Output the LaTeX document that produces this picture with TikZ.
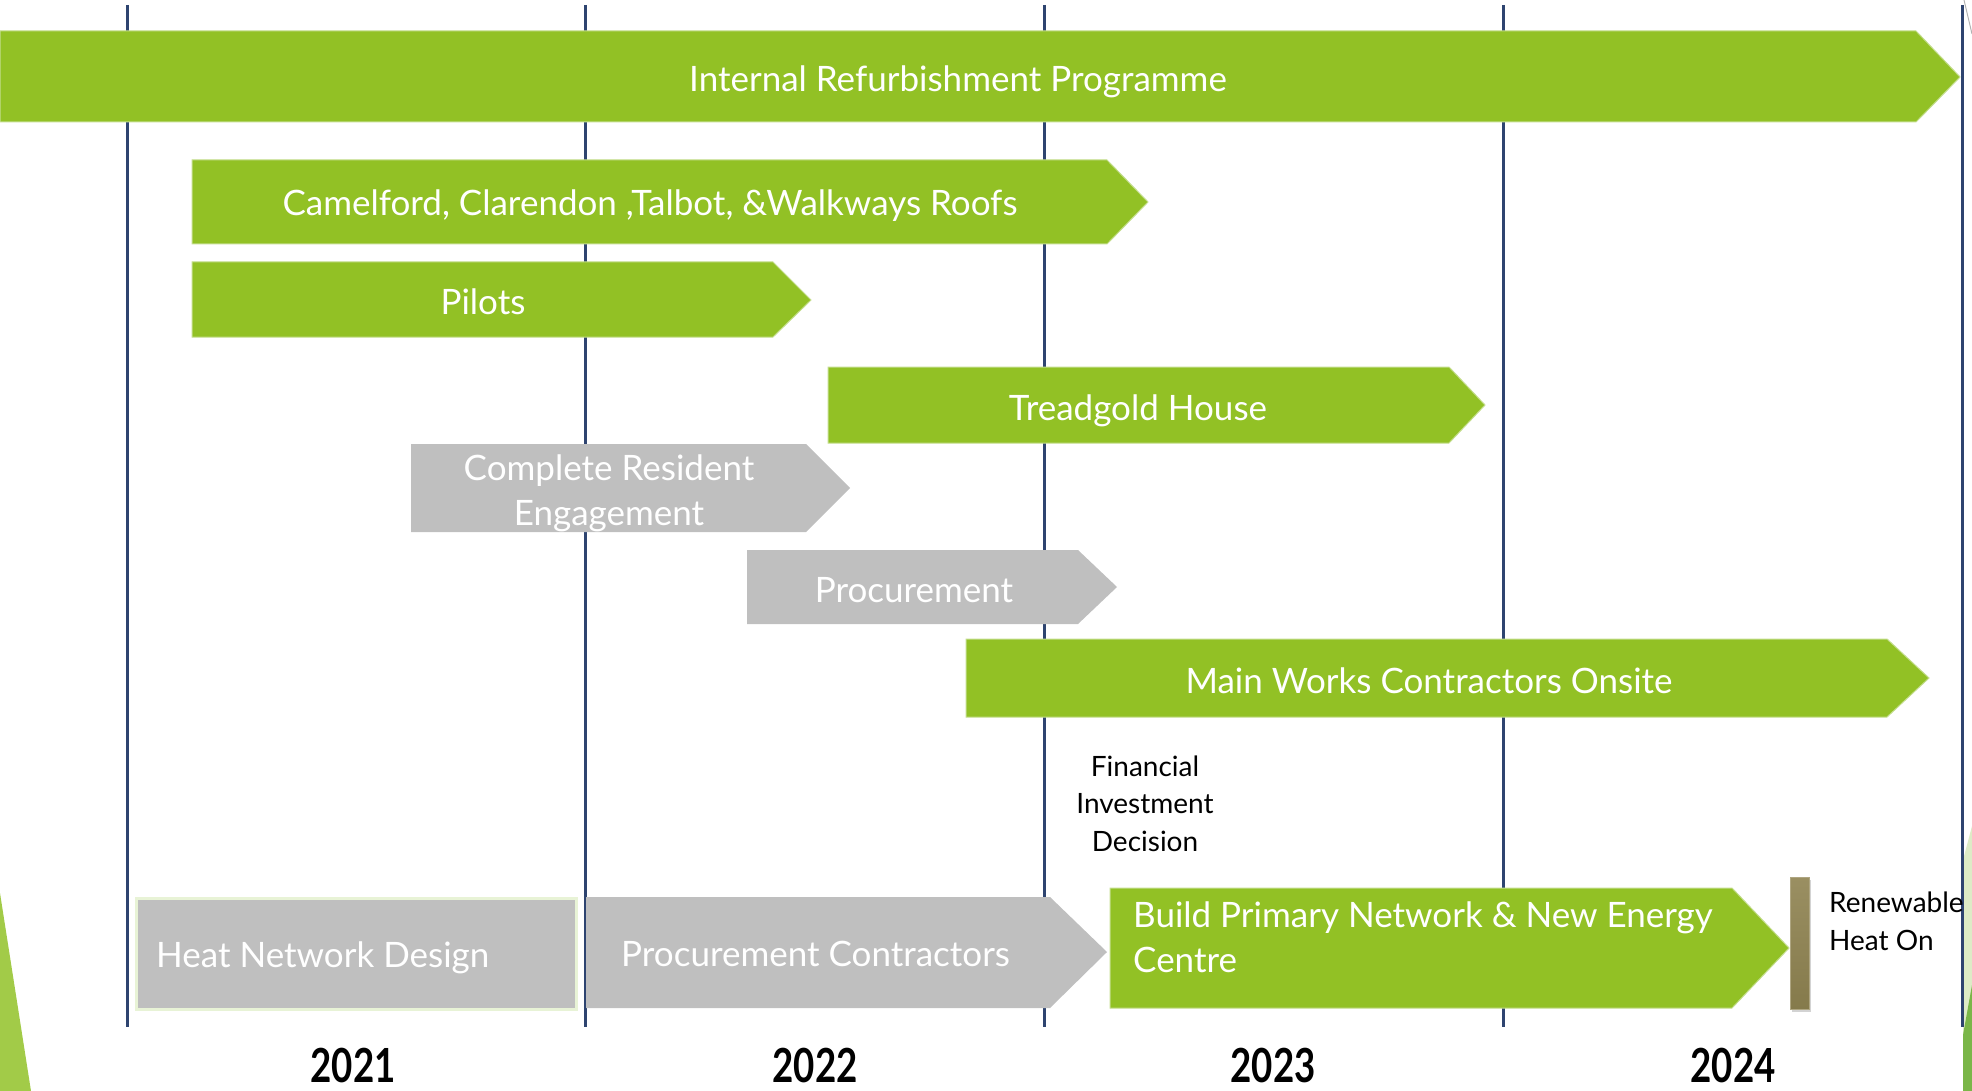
\documentclass[tikz,border=0pt]{standalone}
\usepackage{fontspec}
\setmainfont{Lato}
\usepackage{graphicx}
\usetikzlibrary{shadows}
\definecolor{bargreen}{HTML}{92C125}
\definecolor{baredge}{HTML}{C3DD8C}
\definecolor{boxgrey}{HTML}{BFBFBF}
\definecolor{linenavy}{HTML}{2E4470}
\definecolor{hndedge}{HTML}{E8F3D6}
\definecolor{leftgreen}{HTML}{A2CB48}
\definecolor{palegreen}{HTML}{DDEBC6}
\definecolor{darkgreen}{HTML}{7AB648}
\definecolor{bartop}{HTML}{9A8F62}
\definecolor{barbot}{HTML}{857A4B}
\begin{document}
\begin{tikzpicture}[x=1pt,y=-1pt,
  greenarrow/.style={fill=bargreen, draw=baredge, line width=1pt},
  greyarrow/.style={fill=boxgrey},
  lbl/.style={text=white, font=\fontsize{35}{45}\selectfont, inner sep=0pt, align=center},
  lbll/.style={text=white, font=\fontsize{35}{45}\selectfont, inner sep=0pt, align=left},
  note/.style={text=black, font=\fontsize{28}{37.5}\selectfont, inner sep=0pt},
  yearlbl/.style={text=black, font=\fontsize{47}{50}\selectfont\bfseries, inner sep=0pt},
  gridline/.style={draw=linenavy, line width=3pt}]
\useasboundingbox (0,0) rectangle (1972,1091);
% decorations at the edges
\fill[leftgreen] (0,893) -- (31,1091) -- (0,1091) -- cycle;
\fill[palegreen] (1963,860) -- (1972,826) -- (1972,1091) -- (1963,1091) -- cycle;
\fill[darkgreen] (1963,1035) -- (1972,985) -- (1972,1091) -- (1963,1091) -- cycle;
\draw[gray!60, line width=1pt] (1964,0) -- (1972,34);
% year grid lines
\coordinate (g1t) at (127,5);   \coordinate (g1b) at (127,1027);
\coordinate (g2t) at (585,5);   \coordinate (g2b) at (585,1027);
\coordinate (g3t) at (1044,5);  \coordinate (g3b) at (1044,1027);
\coordinate (g4t) at (1503,5);  \coordinate (g4b) at (1503,1027);
\coordinate (g5t) at (1962,5);  \coordinate (g5b) at (1962,1027);
\draw[gridline] (g1t) -- (g1b);
\draw[gridline] (g2t) -- (g2b);
\draw[gridline] (g3t) -- (g3b);
\draw[gridline] (g4t) -- (g4b);
\draw[gridline] (g5t) -- (g5b);
% Internal Refurbishment Programme
\path[greenarrow] (0,31) -- (1916,31) -- (1960,77) -- (1916,122) -- (0,122) -- cycle;
\node[lbl, anchor=base] (irp) at (958,92) {Internal Refurbishment Programme};
% Roofs
\path[greenarrow] (192,160) -- (1107,160) -- (1148,202) -- (1107,244) -- (192,244) -- cycle;
\node[lbl, anchor=base] (roofs) at (650,216) {Camelford, Clarendon ,Talbot, \&Walkways Roofs};
% Pilots
\path[greenarrow] (192,262) -- (773,262) -- (811,300) -- (773,337) -- (192,337) -- cycle;
\node[lbl, anchor=base] (pilots) at (483,314) {Pilots};
% Treadgold House
\path[greenarrow] (828,367) -- (1449,367) -- (1485,405) -- (1449,443) -- (828,443) -- cycle;
\node[lbl, anchor=base] (tread) at (1138,420) {Treadgold House};
% Complete Resident Engagement
\path[greyarrow] (411,444) -- (806,444) -- (850,488) -- (806,532) -- (411,532) -- cycle;
\node[lbl, anchor=base] (cre) at (609,525) {Complete Resident\\Engagement};
% Procurement
\path[greyarrow] (747,550) -- (1078,550) -- (1117,587) -- (1078,624) -- (747,624) -- cycle;
\node[lbl, anchor=base] (proc) at (914,602) {Procurement};
% Main Works
\path[greenarrow] (966,639) -- (1887,639) -- (1929,678) -- (1887,717) -- (966,717) -- cycle;
\node[lbl, anchor=base] (mwc) at (1429,693) {Main Works Contractors Onsite};
% Financial Investment Decision
\node[note, anchor=base, align=center] (fid) at (1145,851) {Financial\\Investment\\Decision};
% Heat Network Design
\path[fill=boxgrey, draw=hndedge, line width=3pt] (136,898) rectangle (576,1009);
\node[lbll, anchor=base west] (hnd) at (156,967) {Heat Network Design};
% Procurement Contractors
\path[greyarrow] (586,897) -- (1050,897) -- (1107,952) -- (1050,1008) -- (586,1008) -- cycle;
\node[lbll, anchor=base west] (pc) at (621,966) {Procurement Contractors};
% Build Primary Network
\path[greenarrow] (1110,888) -- (1732,888) -- (1789,948) -- (1732,1008) -- (1110,1008) -- cycle;
\node[lbll, anchor=base west] (bpn) at (1133,972) {Build Primary Network \& New Energy\\Centre};
% Renewable heat marker
\path[top color=bartop, bottom color=barbot, draw=bartop!80!white, line width=1pt,
      drop shadow={shadow xshift=2pt, shadow yshift=-3pt, opacity=0.35}]
      (1790,877) rectangle (1809,1009);
\node[note, anchor=base west, align=left] (rho) at (1829,950) {Renewable\\Heat On};
% years
\node[yearlbl, anchor=base] (y21) at (353,1082) {\scalebox{0.78}[1]{2021}};
\node[yearlbl, anchor=base] (y22) at (815,1082) {\scalebox{0.78}[1]{2022}};
\node[yearlbl, anchor=base] (y23) at (1273,1082) {\scalebox{0.78}[1]{2023}};
\node[yearlbl, anchor=base] (y24) at (1733,1082) {\scalebox{0.78}[1]{2024}};
\end{tikzpicture}
\end{document}
